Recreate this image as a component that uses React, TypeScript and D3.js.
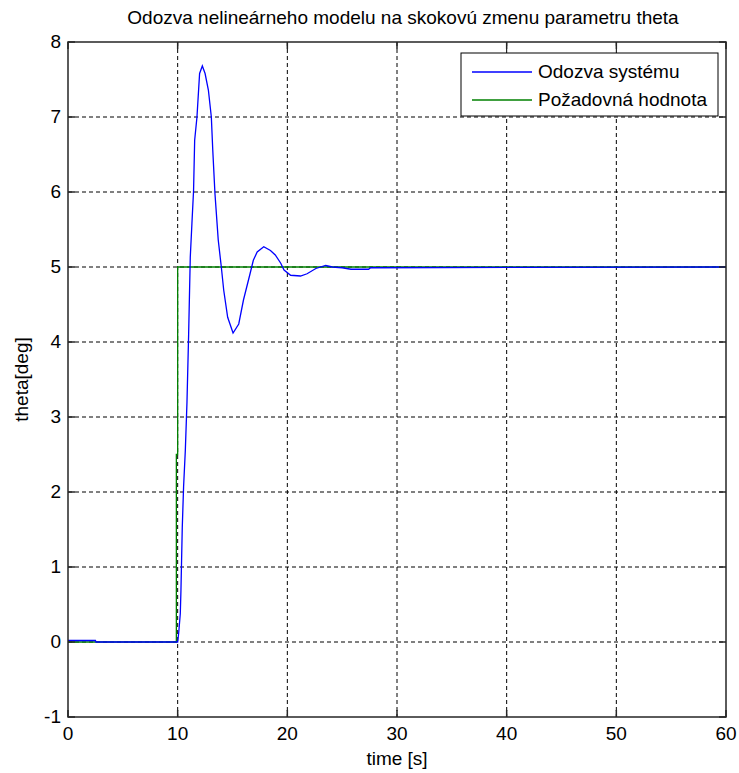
import React from 'react'
import * as d3 from 'd3'

// odozva systemu (blue)
const timeResp = [0, 2.5, 2.55, 10, 10.1, 10.24, 10.3, 10.42, 10.54, 10.7, 10.85, 11.0, 11.15, 11.3, 11.45, 11.55, 11.76, 12.0, 12.25, 12.5, 12.8, 13.07, 13.2, 13.4, 13.7, 13.98, 14.2, 14.56, 15.05, 15.57, 16.0, 16.6, 16.9, 17.25, 17.85, 18.46, 18.9, 19.4, 19.7, 20.3, 21.2, 21.8, 22.6, 23.5, 24.1, 25.0, 25.8, 27.4, 27.6, 60]
const thetaResp = [0.02, 0.02, 0, 0, 0.13, 0.38, 0.69, 1.53, 2.07, 2.56, 3.2, 4.1, 5.13, 5.58, 6.02, 6.69, 7.0, 7.58, 7.68, 7.58, 7.36, 7.0, 6.56, 5.98, 5.36, 5.0, 4.69, 4.33, 4.12, 4.24, 4.56, 4.91, 5.09, 5.2, 5.27, 5.22, 5.16, 5.05, 4.96, 4.89, 4.88, 4.91, 4.98, 5.02, 5.0, 4.99, 4.97, 4.97, 4.99, 5.0]

// pozadovana hodnota (green)
const timeRef = [0, 9.88, 9.88, 10, 10, 60]
const thetaRef = [0, 0, 2.5, 2.5, 5, 5]

const xTicks = [0, 10, 20, 30, 40, 50, 60]
const yTicks = [-1, 0, 1, 2, 3, 4, 5, 6, 7, 8]

const W = 739
const H = 773
const margin = { left: 68, right: 13, top: 42, bottom: 56 }
const FONT = 'Liberation Sans, Arial, sans-serif'
const FS = 19

export default function App() {
  const x = d3.scaleLinear().domain([0, 60]).range([margin.left, W - margin.right])
  const y = d3.scaleLinear().domain([-1, 8]).range([H - margin.bottom, margin.top])
  const [x0, x1] = x.range()
  const [y0, y1] = [y(8), y(-1)]

  const line = d3.line<[number, number]>().x(d => x(d[0])).y(d => y(d[1]))
  const resp = line(timeResp.map((t, i) => [t, thetaResp[i]]))
  const ref = line(timeRef.map((t, i) => [t, thetaRef[i]]))
  const tick = 7

  return (
    <svg width={W} height={H} style={{ position: 'absolute', left: 0, top: 0, background: '#fff' }} fontFamily={FONT}>
      <rect width={W} height={H} fill="#fff" />
      {/* grid */}
      <g stroke="#000" strokeWidth={1} strokeDasharray="4,3">
        {xTicks.slice(1, -1).map(t => (
          <line key={'gx' + t} x1={x(t)} x2={x(t)} y1={y0} y2={y1} />
        ))}
        {yTicks.slice(1, -1).map(t => (
          <line key={'gy' + t} x1={x0} x2={x1} y1={y(t)} y2={y(t)} />
        ))}
      </g>
      {/* data */}
      <path d={ref ?? ''} fill="none" stroke="#008000" strokeWidth={1.3} />
      <path d={resp ?? ''} fill="none" stroke="#0000ff" strokeWidth={1.3} />
      {/* frame + ticks */}
      <g stroke="#262626" strokeWidth={1.5}>
        <rect x={x0} y={y0} width={x1 - x0} height={y1 - y0} fill="none" />
        {xTicks.map(t => (
          <g key={'tx' + t}>
            <line x1={x(t)} x2={x(t)} y1={y1} y2={y1 - tick} />
            <line x1={x(t)} x2={x(t)} y1={y0} y2={y0 + tick} />
          </g>
        ))}
        {yTicks.map(t => (
          <g key={'ty' + t}>
            <line x1={x0} x2={x0 + tick} y1={y(t)} y2={y(t)} />
            <line x1={x1} x2={x1 - tick} y1={y(t)} y2={y(t)} />
          </g>
        ))}
      </g>
      {/* tick labels */}
      <g fontSize={FS} fill="#000">
        {xTicks.map(t => (
          <text key={'lx' + t} x={x(t)} y={y1 + 23} textAnchor="middle">{t}</text>
        ))}
        {yTicks.map(t => (
          <text key={'ly' + t} x={x0 - 7} y={y(t) + 6} textAnchor="end">{t}</text>
        ))}
      </g>
      {/* labels */}
      <text x={403} y={24} textAnchor="middle" fontSize={FS}>
        Odozva nelineárneho modelu na skokovú zmenu parametru theta
      </text>
      <text x={(x0 + x1) / 2} y={765} textAnchor="middle" fontSize={FS}>time [s]</text>
      <text transform={`translate(28,${(y0 + y1) / 2}) rotate(-90)`} textAnchor="middle" fontSize={FS}>theta[deg]</text>
      {/* legend */}
      <g>
        <rect x={461} y={53} width={257} height={63} fill="#fff" stroke="#000" strokeWidth={1} />
        <line x1={472} x2={532} y1={72} y2={72} stroke="#0000ff" strokeWidth={1.3} />
        <line x1={472} x2={532} y1={100} y2={100} stroke="#008000" strokeWidth={1.3} />
        <text x={538} y={78} fontSize={FS}>Odozva systému</text>
        <text x={538} y={106} fontSize={FS}>Požadovná hodnota</text>
      </g>
    </svg>
  )
}
